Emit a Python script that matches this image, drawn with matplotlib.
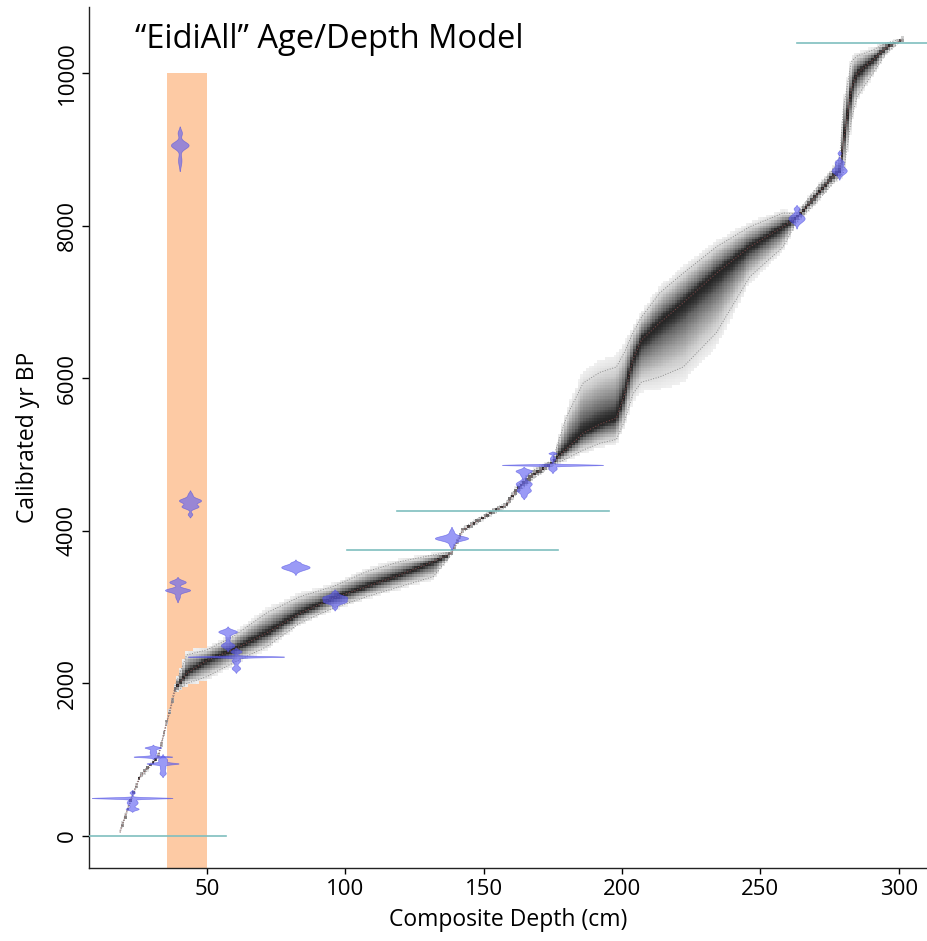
import numpy as np
import matplotlib
matplotlib.use("Agg")
import matplotlib.pyplot as plt
from matplotlib.colors import LinearSegmentedColormap

plt.rcParams['font.family'] = ['Open Sans', 'DejaVu Sans']

# ---------------------------------------------------------------------------
# Age/depth model envelope (depth in cm, ages in cal yr BP): lower bound,
# median and upper bound of the model ensemble at each depth knot
model_depth = [18.6, 22.8, 25.8, 29.0, 32.4, 35.4, 37.0, 38.4, 42.7, 50.0,
               59.4, 71.6, 83.6, 95.5, 107.7, 119.7, 131.8, 138.4, 142.5,
               153.3, 158.2, 161.9, 167.7, 174.9, 180.0, 186.0, 192.0, 198.0,
               201.0, 204.0, 207.0, 213.6, 222.1, 234.1, 246.2, 258.2, 263.1,
               270.0, 276.0, 278.7, 280.0, 282.9, 285.0, 290.7, 295.5, 300.3,
               301.5]
model_lo = [40, 480, 760, 885, 1020, 1455, 1670, 1880, 2000, 2090,
            2268, 2483, 2793, 2986, 3138, 3270, 3400, 3690, 3985,
            4225, 4310, 4490, 4680, 4860, 4950, 5062, 5150, 5200,
            5450, 5800, 5950, 6020, 6150, 6600, 7335, 7725, 8050,
            8300, 8550, 8650, 8700, 9400, 9700, 10002, 10265, 10410,
            10440]
model_med = [56, 500, 777, 905, 1040, 1478, 1696, 1915, 2134, 2300,
             2440, 2662, 2920, 3117, 3270, 3423, 3597, 3708, 4013,
             4253, 4341, 4538, 4734, 4892, 5080, 5285, 5400, 5480,
             5800, 6250, 6500, 6728, 6990, 7380, 7725, 7990, 8105,
             8390, 8640, 8712, 9100, 9800, 10000, 10180, 10340, 10425,
             10449]
model_hi = [70, 520, 795, 925, 1060, 1500, 1720, 1960, 2374, 2440,
            2614, 2925, 3138, 3270, 3466, 3597, 3685, 3725, 4040,
            4280, 4370, 4580, 4790, 4930, 5500, 5941, 6080, 6150,
            6350, 6600, 6800, 7120, 7380, 7725, 7990, 8170, 8160,
            8480, 8730, 8900, 9530, 10155, 10230, 10308, 10400, 10445,
            10455]

# Calibrated radiocarbon dates: sample depth and age density components
# (mean age, sd, weight)
date_depths = [23.0, 30.5, 34.0, 57.5, 60.5, 40.2, 43.9, 39.4, 82.0,
               96.2, 138.4, 164.5, 174.9, 263.1, 278.7]
date_components = [
    [(498, 8, 0.47), (440, 35, 0.29), (355, 15, 0.14), (570, 15, 0.06)],
    [(1040, 8, 0.22), (1160, 12, 0.13), (1100, 40, 0.20)],
    [(950, 10, 0.20), (900, 50, 0.21), (820, 20, 0.07), (1000, 30, 0.19)],
    [(2680, 25, 0.35), (2600, 30, 0.10), (2500, 30, 0.31)],
    [(2352, 8, 0.57), (2300, 30, 0.19), (2200, 25, 0.16), (2420, 20, 0.17)],
    [(9060, 45, 0.60), (9220, 40, 0.13), (8860, 70, 0.18)],
    [(4400, 30, 0.50), (4320, 25, 0.31), (4480, 25, 0.08), (4220, 20, 0.07)],
    [(3330, 25, 0.31), (3225, 25, 0.47), (3140, 35, 0.12)],
    [(3525, 35, 0.75), (3590, 10, 0.03)],
    [(3130, 30, 0.54), (3070, 25, 0.37), (3200, 15, 0.05), (3000, 20, 0.07)],
    [(3905, 30, 0.75), (3990, 30, 0.10), (3820, 30, 0.10)],
    [(4790, 20, 0.22), (4740, 30, 0.15), (4620, 35, 0.42), (4530, 30, 0.31),
     (4460, 20, 0.07)],
    [(4866, 8, 0.60), (4950, 25, 0.10), (5020, 10, 0.06), (4820, 25, 0.16)],
    [(8100, 50, 0.61), (8230, 20, 0.08)],
    [(8720, 45, 0.51), (8830, 30, 0.19), (8950, 15, 0.04)],
]

# Tie-point horizons: age and depth range
marker_ages = [0, 3755, 4262, 10396]
marker_from = [5.0, 100.8, 118.6, 263.1]
marker_to = [56.9, 176.9, 195.3, 315.0]

# Disturbed section excluded from the model
zone_from, zone_to, zone_top = 35.7, 50.0, 10000

# ---------------------------------------------------------------------------
fig = plt.figure(figsize=(9.28, 9.41), dpi=100)
ax = fig.add_axes([0.0956, 0.0776, 0.9044, 0.915])
xmin, xmax = 7.3, 310.6
ymin, ymax = -420, 10872
ax.set_xlim(xmin, xmax)
ax.set_ylim(ymin, ymax)

# excluded zone
ax.fill_between([zone_from, zone_to], ymin, zone_top, color='#fdcaa4',
                lw=0, zorder=1)

# model ensemble shading, drawn as a blocky density image
d_edges = np.arange(18.0, 302.5, 1.0)
a_edges = np.arange(ymin, ymax + 36, 36.0)
dc = 0.5 * (d_edges[:-1] + d_edges[1:])
ac = 0.5 * (a_edges[:-1] + a_edges[1:])
lo = np.interp(dc, model_depth, model_lo)
med = np.interp(dc, model_depth, model_med)
hi = np.interp(dc, model_depth, model_hi)
h_lo = np.maximum(med - lo, 24.0)
h_hi = np.maximum(hi - med, 24.0)
A = ac[:, None]
H = np.where(A < med[None, :], h_lo[None, :], h_hi[None, :])
X = (A - med[None, :]) / H
flat = np.exp(-np.abs(X) ** 4)
core = np.exp(-0.5 * (X / 0.3) ** 2)
Z = 0.62 * flat + 0.38 * core
inside = (dc >= model_depth[0]) & (dc <= model_depth[-1])
Z[:, ~inside] = 0
Z = np.ma.masked_less(Z, 0.06)
grey = LinearSegmentedColormap.from_list(
    'ens', [(0.0, '#f0f0f0'), (0.35, '#cacaca'), (0.6, '#9a9a9a'),
            (0.85, '#626262'), (1.0, '#262626')])
ax.pcolormesh(d_edges, a_edges, Z, cmap=grey, vmin=0.06, vmax=1.0,
              shading='flat', zorder=2, rasterized=True)

# envelope and median traces
ax.plot(model_depth, model_lo, ls=':', color='#8c8c8c', lw=0.7, zorder=3)
ax.plot(model_depth, model_hi, ls=':', color='#8c8c8c', lw=0.7, zorder=3)
ax.plot(model_depth, model_med, ls=':', color='#8a4f4f', lw=0.8, alpha=0.8,
        zorder=3)

# tie-point horizons
for age, d0, d1 in zip(marker_ages, marker_from, marker_to):
    ax.plot([d0, d1], [age, age], color='#7fbfbf', lw=1.2, zorder=4)

# calibrated date densities
scale = 600.0
for depth, comps in zip(date_depths, date_components):
    m = np.array([c[0] for c in comps], float)
    s = np.array([c[1] for c in comps], float)
    w = np.array([c[2] for c in comps], float)
    ages = np.linspace((m - 3.5 * s).min(), (m + 3.5 * s).max(), 600)
    dens = (w[None, :] / (s[None, :] * np.sqrt(2 * np.pi)) *
            np.exp(-0.5 * ((ages[:, None] - m[None, :]) / s[None, :]) ** 2)
            ).sum(axis=1)
    half = scale * dens
    keep = half > 0.08
    ax.fill_betweenx(ages, depth - half, depth + half, where=keep,
                     facecolor='#5c5cf2', edgecolor='#5050e0', alpha=0.62,
                     lw=0.5, zorder=5)

# title
ax.text(0.055, 0.962, '\u201cEidiAll\u201d Age/Depth Model',
        transform=ax.transAxes, fontsize=23.5, color='black', ha='left',
        va='center', zorder=6)

# axes styling
for side in ('top', 'right'):
    ax.spines[side].set_visible(False)
for side in ('left', 'bottom'):
    ax.spines[side].set_linewidth(1.0)
    ax.spines[side].set_color('#222222')
ax.set_xticks([50, 100, 150, 200, 250, 300])
ax.set_yticks([0, 2000, 4000, 6000, 8000, 10000])
ax.tick_params(axis='x', length=4, width=1.0, pad=4, labelsize=16)
ax.tick_params(axis='y', length=5, width=1.0, pad=3, labelsize=16)
for lab in ax.get_yticklabels():
    lab.set_rotation(90)
    lab.set_va('center')
ax.set_xlabel('Composite Depth (cm)', fontsize=16.5, labelpad=6)
ax.set_ylabel('Calibrated yr BP', fontsize=16.5, labelpad=12)

fig.savefig('out.png', dpi=100)
